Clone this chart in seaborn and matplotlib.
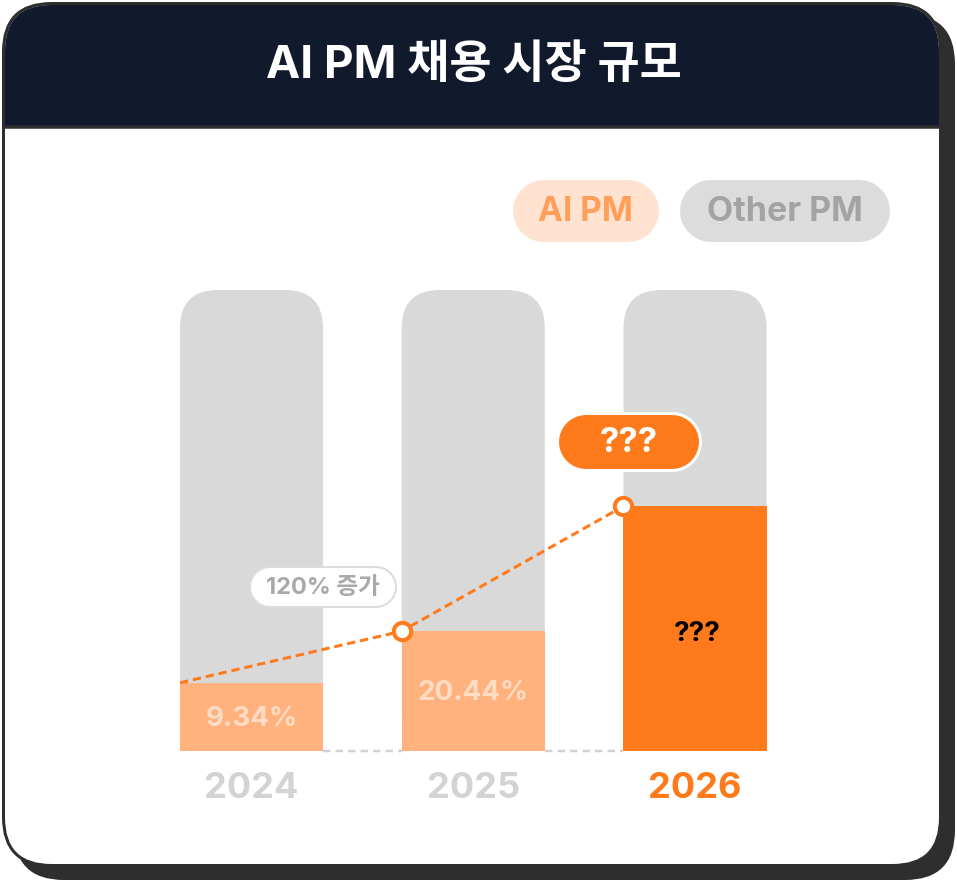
import numpy as np
import pandas as pd
import matplotlib
matplotlib.use("Agg")
import matplotlib.pyplot as plt
import seaborn as sns
from matplotlib.patches import FancyBboxPatch, Rectangle

# data
years = ["2024", "2025", "2026"]
ai_labels = ["9.34%", "20.44%", "???"]
ai_bar = [14.8, 26.0, 53.1]        # orange part, % of full bar height
total_bar = [100, 100, 100]        # grey "Other PM" bar
title = "AI PM 채용 시장 규모"
growth_label = "120% 증가"
forecast_label = "???"

NAVY = "#111a2d"
FRAME = "#2e2e2e"
GREY = "#d9d9d9"
LIGHT_OR = "#ffb27e"
ORANGE = "#ff7a1a"

sns.set_theme(style="white")
plt.rcParams["font.family"] = ["Inter", "Noto Sans CJK KR", "DejaVu Sans"]

W, H = 957, 882
fig = plt.figure(figsize=(W / 100, H / 100), dpi=100)

# background card, in pixel coordinates
bg = fig.add_axes([0, 0, 1, 1], zorder=0)
bg.set_xlim(0, W)
bg.set_ylim(H, 0)
bg.axis("off")
px = 0.72  # one pixel in points

bg.add_patch(FancyBboxPatch((14, 14), 941, 866, boxstyle="round,pad=0,rounding_size=50",
                            fc=FRAME, ec="none"))
bg.add_patch(FancyBboxPatch((3.5, 3.5), 937, 862, boxstyle="round,pad=0,rounding_size=48",
                            fc="white", ec=FRAME, lw=3 * px))
bg.add_patch(FancyBboxPatch((5, 5), 934, 122, boxstyle="round,pad=0,rounding_size=46",
                            fc=NAVY, ec="none"))
bg.add_patch(Rectangle((5, 60), 934, 67, fc=NAVY, ec="none"))
bg.plot([3.5, 940.5], [126.5, 126.5], color=FRAME, lw=3.5 * px, solid_capstyle="butt")
bg.text(474, 66, title, color="white", fontsize=33, fontweight="bold",
        ha="center", va="center")

# chart axes
bar_w = 0.645
left_px, right_px = 140.6, 805.9
top_px, bot_px = 290, 751
ax = fig.add_axes([left_px / W, 1 - bot_px / H, (right_px - left_px) / W, (bot_px - top_px) / H],
                  zorder=1)
ax.patch.set_alpha(0)

df = pd.DataFrame({"year": years, "ai": ai_bar, "total": total_bar})

sns.barplot(data=df, x="year", y="total", color=GREY, width=bar_w, ax=ax,
            saturation=1, linewidth=0, zorder=1)
# swap grey bars for rounded-top versions
rx = 38 / 221.75
aspect = (38 / 4.61) / rx
for p in list(ax.patches):
    x0, y0, w, h = p.get_x(), p.get_y(), p.get_width(), p.get_height()
    p.remove()
    ax.add_patch(FancyBboxPatch((x0, y0), w, h, boxstyle=f"round,pad=0,rounding_size={rx}",
                                mutation_aspect=aspect, fc=GREY, ec="none", zorder=1))

sns.barplot(data=df, x="year", y="ai", hue="year", palette=[LIGHT_OR, LIGHT_OR, ORANGE],
            width=bar_w, ax=ax, saturation=1, linewidth=0, legend=False, zorder=2)

ax.set_xlim(-0.5, 2.5)
ax.set_ylim(0, 100)

# dashed baseline between bars
idx = np.arange(len(years))
ax.hlines(np.zeros(len(years) - 1), idx[:-1] + bar_w / 2, idx[1:] - bar_w / 2,
          colors="#d2d2d2", lw=2.5 * px, linestyles=(0, (3, 2)), zorder=0, clip_on=False)

# growth line from the left edge of each orange block
line_x = idx - bar_w / 2
ax.plot(line_x, ai_bar, color=ORANGE, lw=3 * px, dashes=(2.8, 1.6), zorder=4, clip_on=False)
ax.plot(line_x[1:], ai_bar[1:], ls="none", marker="o", ms=12.5, mew=4 * px,
        mfc="white", mec=ORANGE, zorder=5, clip_on=False)

label_cols = ["#ffdcc4", "#ffdcc4", "black"]
label_size = [20, 20, 20]
for i, (lab, h) in enumerate(zip(ai_labels, ai_bar)):
    ax.text(i + (0.01 if i == 2 else 0), h / 2 - (1.2 if i == 2 else 0.4), lab,
            ha="center", va="center", color=label_cols[i], fontsize=label_size[i],
            fontweight="bold", zorder=6)

ax.set_xlabel("")
ax.set_ylabel("")
ax.set_yticks([])
ax.set_xticks(idx)
ax.set_xticklabels(years, fontsize=26, fontweight="bold")
for t, c in zip(ax.get_xticklabels(), ["#d3d3d3", "#d3d3d3", ORANGE]):
    t.set_color(c)
ax.tick_params(axis="x", length=0, pad=15)
sns.despine(ax=ax, left=True, bottom=True)

# pills on top, pixel coordinates
ov = fig.add_axes([0, 0, 1, 1], zorder=3)
ov.set_xlim(0, W)
ov.set_ylim(H, 0)
ov.axis("off")
ov.patch.set_alpha(0)


def pill(cx, cy, w, h, text, fc, tc, size, ec=None, bw=0):
    xs = [cx - w / 2 + h / 2, cx + w / 2 - h / 2]
    if ec is not None:
        ov.plot(xs, [cy, cy], color=ec, lw=(h + 2 * bw) * px, solid_capstyle="round")
    ov.plot(xs, [cy, cy], color=fc, lw=h * px, solid_capstyle="round")
    ov.text(cx, cy + 1, text, ha="center", va="center", color=tc, fontsize=size,
            fontweight="bold")


pill(585.5, 211, 146, 62, "AI PM", "#ffe2cf", "#ff9f5a", 24)
pill(785, 211, 210, 62, "Other PM", "#dcdcdc", "#a3a3a3", 24.5)
pill(323, 587, 144, 38, growth_label, "white", "#a9a9a9", 17, ec="#dcdcdc", bw=2)
pill(628.5, 441.5, 140, 54, forecast_label, ORANGE, "white", 25, ec="white", bw=3)

fig.savefig("out.png", dpi=100)
